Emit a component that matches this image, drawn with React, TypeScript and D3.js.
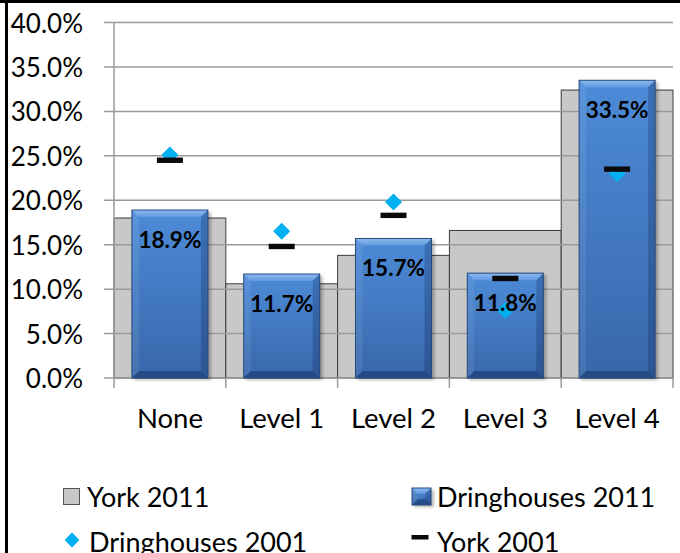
import React from "react";
import * as d3 from "d3";

const categories = ["None", "Level 1", "Level 2", "Level 3", "Level 4"];
const york2011 = [18.0, 10.6, 13.8, 16.6, 32.4];
const dring2011 = [18.9, 11.7, 15.7, 11.8, 33.5];
const dring2001 = [25.1, 16.5, 19.8, 7.6, 23.0];
const york2001 = [24.5, 14.8, 18.3, 11.2, 23.5];
const yTicks = [0, 5, 10, 15, 20, 25, 30, 35, 40];

const W = 680;
const H = 553;
const FONT = "Lato, 'Open Sans', sans-serif";

function BlueBar({ x, y, w, h }: { x: number; y: number; w: number; h: number }) {
  const b = Math.min(7, h / 3);
  return (
    <g>
      <rect x={x + 2} y={y + 2} width={w + 1} height={h} fill="rgba(0,0,0,0.28)" filter="url(#blur)" />
      <rect x={x} y={y} width={w} height={h} fill="url(#blueFace)" />
      <polygon points={`${x},${y} ${x + w},${y} ${x + w - b},${y + b} ${x + b},${y + b}`} fill="url(#blueTop)" />
      <polygon points={`${x},${y} ${x + b},${y + b} ${x + b},${y + h - b} ${x},${y + h}`} fill="rgba(255,255,255,0.08)" />
      <polygon points={`${x + w},${y} ${x + w - b},${y + b} ${x + w - b},${y + h - b} ${x + w},${y + h}`} fill="rgba(0,20,60,0.22)" />
      <polygon points={`${x},${y + h} ${x + b},${y + h - b} ${x + w - b},${y + h - b} ${x + w},${y + h}`} fill="rgba(0,20,60,0.35)" />
      <rect x={x} y={y} width={w} height={h} fill="none" stroke="#27497a" strokeWidth={1} />
    </g>
  );
}

export default function App() {
  const left = 114;
  const right = 673;
  const y = d3.scaleLinear().domain([0, 40]).range([378, 22.5]);
  const x = d3.scaleBand<string>().domain(categories).range([left, right]).paddingInner(0).paddingOuter(0);
  const bw = x.bandwidth();
  const blueW = bw * 0.68;
  const fmt = (v: number) => v.toFixed(1) + "%";

  return (
    <svg width={W} height={H} style={{ position: "absolute", left: 0, top: 0, background: "#fff" }} fontFamily={FONT}>
      <defs>
        <linearGradient id="blueFace" x1="0" y1="0" x2="0" y2="1">
          <stop offset="0" stopColor="#4d8bd8" />
          <stop offset="1" stopColor="#3867ab" />
        </linearGradient>
        <linearGradient id="blueTop" x1="0" y1="0" x2="0" y2="1">
          <stop offset="0" stopColor="#8dbbf0" />
          <stop offset="1" stopColor="#6198de" />
        </linearGradient>
        <filter id="blur" x="-20%" y="-20%" width="140%" height="140%">
          <feGaussianBlur stdDeviation="1.5" />
        </filter>
      </defs>
      <rect x={0} y={0} width={W} height={H} fill="#fff" />

      {/* grey bars (York 2011) */}
      {categories.map((c, i) => (
        <rect key={"g" + c} x={x(c)!} y={y(york2011[i])} width={bw} height={y(0) - y(york2011[i])}
          fill="#c8c8c8" stroke="#3a3a3a" strokeWidth={1} />
      ))}

      {/* gridlines */}
      {yTicks.map((t) => (
        <line key={"gl" + t} x1={104} x2={right} y1={y(t)} y2={y(t)} stroke="#9a9a9a" strokeWidth={1.5} />
      ))}
      {/* axis line */}
      <line x1={left} x2={left} y1={y(40)} y2={388} stroke="#9a9a9a" strokeWidth={1.5} />
      {categories.map((c) => (
        <line key={"ct" + c} x1={x(c)! + bw} x2={x(c)! + bw} y1={y(0)} y2={388} stroke="#9a9a9a" strokeWidth={1.5} />
      ))}

      {/* blue bars (Dringhouses 2011) */}
      {categories.map((c, i) => (
        <BlueBar key={"b" + c} x={x(c)! + (bw - blueW) / 2} y={y(dring2011[i])} w={blueW} h={y(0) - y(dring2011[i])} />
      ))}

      {/* diamonds (Dringhouses 2001) */}
      {categories.map((c, i) => {
        const cx = x(c)! + bw / 2;
        const cy = y(dring2001[i]);
        const r = 8.5;
        return <polygon key={"d" + c} points={`${cx},${cy - r} ${cx + r},${cy} ${cx},${cy + r} ${cx - r},${cy}`} fill="#00b0f0" />;
      })}

      {/* dashes (York 2001) */}
      {categories.map((c, i) => {
        const cx = x(c)! + bw / 2;
        return <rect key={"y" + c} x={cx - 13} y={y(york2001[i]) - 2.7} width={26} height={5.4} fill="#0a0a0a" />;
      })}

      {/* labels */}
      {categories.map((c, i) => (
        <text key={"l" + c} x={x(c)! + bw / 2} y={y(dring2011[i]) + 29.5} textAnchor="middle" dominantBaseline="central"
          fontWeight="bold" fontSize={22.5} fill="#000">{fmt(dring2011[i])}</text>
      ))}

      {/* y tick labels */}
      {yTicks.map((t) => (
        <text key={"yt" + t} x={83} y={y(t)} textAnchor="end" dominantBaseline="central" fontSize={26} fill="#000">{fmt(t)}</text>
      ))}
      {/* category labels */}
      {categories.map((c) => (
        <text key={"cl" + c} x={x(c)! + bw / 2} y={417} textAnchor="middle" dominantBaseline="central" fontSize={27.5} fill="#000">{c}</text>
      ))}

      {/* legend */}
      <g fontSize={27}>
        <rect x={63.5} y={488.5} width={16} height={16} fill="#c8c8c8" stroke="#555" strokeWidth={1} />
        <text x={87} y={496} dominantBaseline="central">York 2011</text>
        <BlueBar x={412} y={488} w={19} h={17} />
        <text x={437} y={496} dominantBaseline="central">Dringhouses 2011</text>
        <polygon points={`72,532.5 79.5,540 72,547.5 64.5,540`} fill="#00b0f0" />
        <text x={89} y={541} dominantBaseline="central">Dringhouses 2001</text>
        <rect x={411.5} y={535} width={17} height={4.5} fill="#0a0a0a" />
        <text x={437} y={541} dominantBaseline="central">York 2001</text>
      </g>

      {/* frame */}
      <rect x={0} y={0} width={W} height={3} fill="#000" />
      <rect x={5} y={0} width={3} height={H} fill="#000" />
    </svg>
  );
}
